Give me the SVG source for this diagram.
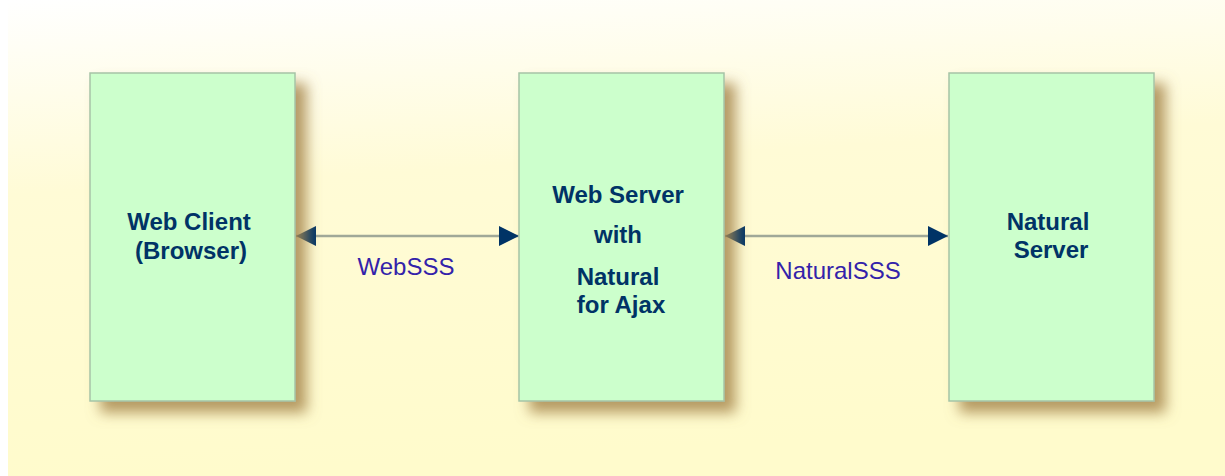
<svg xmlns="http://www.w3.org/2000/svg" width="1225" height="476" viewBox="0 0 1225 476">
  <defs>
    <linearGradient id="bg" x1="0" y1="0" x2="0.15" y2="1">
      <stop offset="0" stop-color="#ffffff"/>
      <stop offset="0.4" stop-color="#fffbd6"/>
      <stop offset="1" stop-color="#fffbcc"/>
    </linearGradient>
    <filter id="shadow" x="-20%" y="-20%" width="160%" height="160%">
      <feDropShadow dx="11" dy="11" stdDeviation="7" flood-color="#a88850" flood-opacity="0.85"/>
    </filter>
    <marker id="arr" viewBox="0 0 20 20" refX="20" refY="10" markerWidth="20" markerHeight="20" markerUnits="userSpaceOnUse" orient="auto-start-reverse">
      <path d="M0,0 L20,10 L0,20 Z" fill="#003366"/>
    </marker>
    <style>
      .box { fill: #ccffcc; stroke: #a6c4a6; stroke-width: 1.5; filter: url(#shadow); }
      .nt { font-family: "Liberation Sans", Arial, sans-serif; font-weight: bold; font-size: 24px; fill: #003366; text-anchor: middle; }
      .lb { font-family: "Liberation Sans", Arial, sans-serif; font-size: 24px; fill: #3322aa; text-anchor: middle; }
      .conn { stroke: #a0a898; stroke-width: 2.5; fill: none; marker-start: url(#arr); marker-end: url(#arr); }
    </style>
  </defs>
  <rect x="0" y="0" width="1225" height="476" fill="#ffffff"/>
  <rect x="8" y="0" width="1217" height="476" fill="url(#bg)"/>

  <g id="connectors">
    <line class="conn" x1="296" y1="236" x2="519" y2="236"/>
    <line class="conn" x1="725" y1="236" x2="948" y2="236"/>
    <text class="lb" x="406" y="275">WebSSS</text>
    <text class="lb" x="838" y="279">NaturalSSS</text>
  </g>

  <g id="web-client">
    <rect class="box" x="90" y="73" width="205" height="328"/>
    <text class="nt" x="189" y="230">Web Client</text>
    <text class="nt" x="191" y="259">(Browser)</text>
  </g>

  <g id="web-server">
    <rect class="box" x="519" y="73" width="205" height="328"/>
    <text class="nt" x="618" y="203">Web Server</text>
    <text class="nt" x="618" y="243">with</text>
    <text class="nt" x="618" y="285">Natural</text>
    <text class="nt" x="621" y="313">for Ajax</text>
  </g>

  <g id="natural-server">
    <rect class="box" x="949" y="73" width="205" height="328"/>
    <text class="nt" x="1048" y="230">Natural</text>
    <text class="nt" x="1051" y="258">Server</text>
  </g>
</svg>
